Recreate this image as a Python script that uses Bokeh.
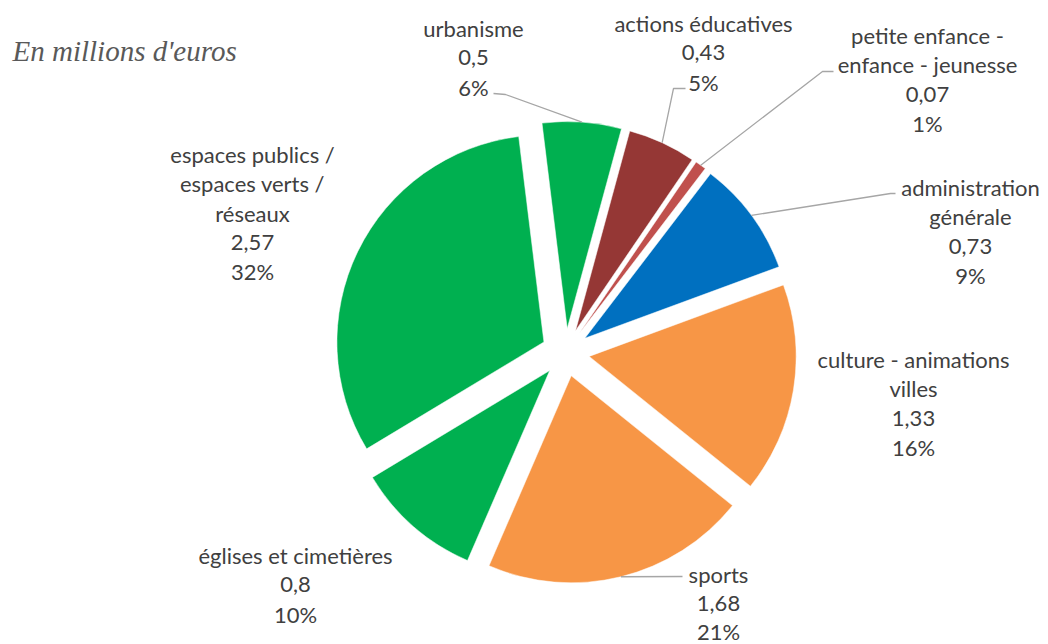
import numpy as np
from bokeh.plotting import figure
from bokeh.models import Range1d, ColumnDataSource
from bokeh.embed import file_html
from bokeh.resources import INLINE
from bokeh.core.properties import value

# ---- data ----
categories = ["urbanisme", "actions éducatives", "petite enfance - enfance - jeunesse",
              "administration générale", "culture - animations villes", "sports",
              "églises et cimetières", "espaces publics / espaces verts / réseaux"]
values = [0.5, 0.43, 0.07, 0.73, 1.33, 1.68, 0.8, 2.57]
value_labels = ["0,5", "0,43", "0,07", "0,73", "1,33", "1,68", "0,8", "2,57"]
percent_labels = ["6%", "5%", "1%", "9%", "16%", "21%", "10%", "32%"]
name_lines = [["urbanisme"], ["actions éducatives"], ["petite enfance -", "enfance - jeunesse"],
              ["administration", "générale"], ["culture - animations", "villes"], ["sports"],
              ["églises et cimetières"], ["espaces publics /", "espaces verts /", "réseaux"]]
colors = ["#00B050", "#953735", "#C0504D", "#0070C0", "#F79646", "#F79646", "#00B050", "#00B050"]
title_text = "En millions d'euros"

# ---- layout (screen pixels of the page) ----
W, H = 1048, 644
def Y(sy):
    return H - sy

cx, cy = 565, Y(352)
R = 207
EXPLODE = 24
FIRST_ANGLE = -7.0  # degrees, clockwise from 12 o'clock
label_pos = [(473, 28), (703, 23), (927, 35), (970, 187), (913, 359), (718, 574), (295, 555), (252, 154)]
LINE_H = 29.3
leader_pts = {0: [(493, 93), (505, 94)], 1: [(685, 88), (673, 88)], 2: [(833, 71), (822, 71)],
              3: [(895, 193), (890, 193)], 5: [(682, 576)]}

vals = np.array(values)
total = vals.sum()
cum = np.cumsum(vals)
th_s = FIRST_ANGLE + 360 * (cum - vals) / total
th_e = FIRST_ANGLE + 360 * cum / total
th_m = np.radians((th_s + th_e) / 2)
xs = cx + EXPLODE * np.sin(th_m)
ys = cy + EXPLODE * np.cos(th_m)

src = ColumnDataSource(dict(x=xs, y=ys, start=np.radians(90 - th_s), end=np.radians(90 - th_e),
                            color=colors, name=categories))

p = figure(width=W, height=H, x_range=Range1d(0, W), y_range=Range1d(0, H),
           output_backend="svg", toolbar_location=None, x_axis_type=None, y_axis_type=None,
           min_border=0, outline_line_color=None, background_fill_color="white")
p.grid.visible = False

p.wedge(x="x", y="y", radius=R, start_angle="start", end_angle="end", direction="clock",
        fill_color="color", line_color="white", line_width=0.5, source=src)

# leader lines
for i, pts in leader_pts.items():
    ax = xs[i] + R * np.sin(th_m[i])
    ay = ys[i] + R * np.cos(th_m[i])
    lx = [pt[0] for pt in pts] + [ax]
    ly = [Y(pt[1]) for pt in pts] + [ay]
    p.line(lx, ly, line_color="#A6A6A6", line_width=1.3)

# labels
tx, ty, tt = [], [], []
for i in range(len(categories)):
    lines = name_lines[i] + [value_labels[i], percent_labels[i]]
    x0, y0 = label_pos[i]
    lh = LINE_H if i != 5 else 28.5
    for k, s in enumerate(lines):
        tx.append(x0)
        ty.append(Y(y0 + k * lh))
        tt.append(s)
p.text(x=tx, y=ty, text=tt, text_align="center", text_baseline="middle",
       text_font=value("Lato"), text_font_size="22px", text_color="#404040")

p.text(x=[12], y=[Y(50)], text=[title_text], text_align="left", text_baseline="middle",
       text_font=value("Liberation Serif"), text_font_style="italic", text_font_size="29px",
       text_color="#595959")

open("out.html", "w").write(file_html(p, INLINE))
